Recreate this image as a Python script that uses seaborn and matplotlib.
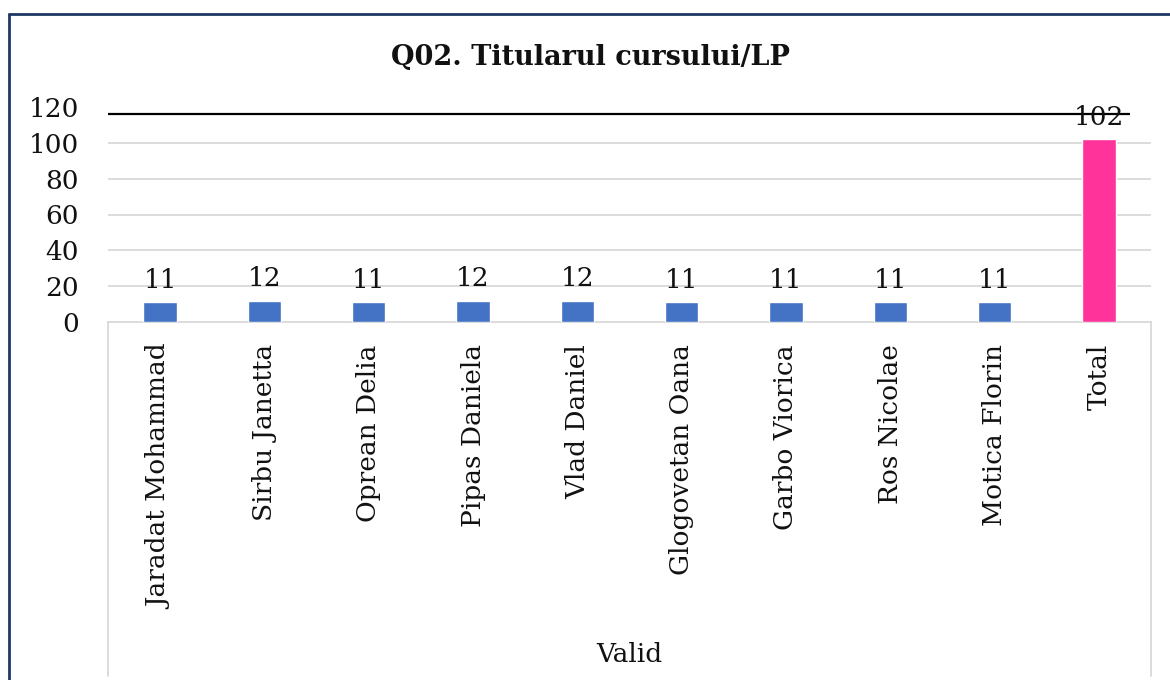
"""Q02 chart: counts per course holder."""

import matplotlib

matplotlib.use("Agg")

import matplotlib.pyplot as plt
import pandas as pd
import seaborn as sns
from matplotlib.lines import Line2D


categories = [
    "Jaradat Mohammad",
    "Sirbu Janetta",
    "Oprean Delia",
    "Pipas Daniela",
    "Vlad Daniel",
    "Glogovetan Oana",
    "Garbo Viorica",
    "Ros Nicolae",
    "Motica Florin",
    "Total",
]
counts = [11, 12, 11, 12, 12, 11, 11, 11, 11, 102]
bar_colors = ["#4472C4"] * 9 + ["#FF3399"]
y_ticks = [0, 20, 40, 60, 80, 100, 120]
ref_line = 116
group_label = "Valid"
title = "Q02. Titularul cursului/LP"

sns.set_theme(style="white")
plt.rcParams["font.family"] = ["DejaVu Serif"]

data = pd.DataFrame({"Name": categories, "Count": counts})

fig = plt.figure(figsize=(11.7, 6.8), dpi=100)
ax = fig.add_axes([108 / 1170, 1 - 322 / 680, (1151 - 108) / 1170, 215 / 680])

sns.barplot(
    data=data,
    x="Name",
    y="Count",
    hue="Name",
    palette=bar_colors,
    width=0.32,
    legend=False,
    saturation=1,
    ax=ax,
    zorder=3,
)

ax.set_ylim(0, 120)
ax.set_xlim(-0.5, len(categories) - 0.5)
ax.set_yticks(y_ticks)
for val in y_ticks[1:-1]:
    ax.axhline(val, color="#D9D9D9", lw=1.3, zorder=1)
ax.hlines(ref_line, -0.5, len(categories) - 0.7, color="black", lw=1.6, zorder=4)

for i, val in enumerate(counts):
    ax.annotate(
        str(val),
        (i, val),
        xytext=(0, 7),
        textcoords="offset points",
        ha="center",
        va="bottom",
        fontsize=19,
        color="#111111",
        zorder=5,
    )

ax.tick_params(axis="y", length=0, pad=21, labelsize=19, labelcolor="#111111")
ax.tick_params(axis="x", length=0, pad=16, labelsize=19, labelcolor="#111111")
ax.set_xticks(range(len(categories)))
ax.set_xticklabels(categories, rotation=90)
ax.set_xlabel("")
ax.set_ylabel("")

for side in ["top", "right", "left"]:
    ax.spines[side].set_visible(False)
ax.spines["bottom"].set_color("#D9D9D9")
ax.spines["bottom"].set_linewidth(1.3)

# category group box lines below the axis
for xp in [108, 1151]:
    fig.add_artist(
        Line2D([xp / 1170, xp / 1170], [1 - 322 / 680, 1 - 676 / 680],
               color="#D9D9D9", lw=1.3)
    )
fig.text(629 / 1170, 1 - 655 / 680, group_label, ha="center", va="center",
         fontsize=19, color="#111111")

fig.text(590 / 1170, 1 - 57 / 680, title, ha="center", va="center",
         fontsize=19.5, fontweight="bold", color="#111111")

# outer frame (left and top edges visible)
fig.add_artist(Line2D([9 / 1170, 9 / 1170], [0, 1 - 14 / 680], color="#1F3864", lw=2))
fig.add_artist(Line2D([9 / 1170, 1], [1 - 14 / 680, 1 - 14 / 680], color="#1F3864", lw=2))

fig.savefig("out.png", dpi=100)
plt.close(fig)
